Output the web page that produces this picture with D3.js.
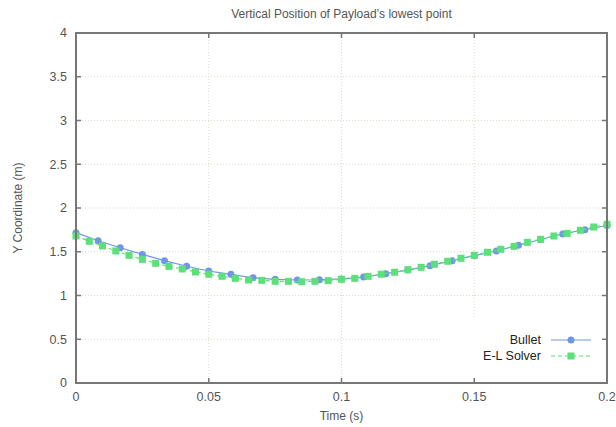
<!DOCTYPE html>
<html>
<head>
<meta charset="utf-8">
<script src="https://cdn.jsdelivr.net/npm/d3@7"></script>
<style>
  body { margin: 0; background: #fff; }
  text { font-family: "Liberation Sans", Arial, sans-serif; fill: #555; }
</style>
</head>
<body>
<svg id="chart"></svg>
<script>
// bullet samples every 1/120 s, solver samples every 1/200 s
let bulletTime = d3.range(25).map(k => k / 120);
let bulletY = [1.718, 1.626, 1.546, 1.470, 1.398, 1.334, 1.280, 1.242, 1.203, 1.185, 1.177, 1.180,
  1.190, 1.211, 1.249, 1.291, 1.341, 1.398, 1.455, 1.509, 1.574, 1.640, 1.703, 1.752, 1.800];

let solverTime = d3.range(41).map(k => k / 200);
let solverY = [1.680, 1.619, 1.566, 1.509, 1.459, 1.413, 1.368, 1.333, 1.303, 1.269, 1.243,
  1.219, 1.196, 1.177, 1.173, 1.162, 1.162, 1.158, 1.162, 1.170, 1.185,
  1.196, 1.219, 1.243, 1.266, 1.295, 1.322, 1.357, 1.391, 1.425, 1.459,
  1.494, 1.528, 1.562, 1.608, 1.642, 1.680, 1.710, 1.745, 1.783, 1.813];

let xTicks = [0, 0.05, 0.1, 0.15, 0.2];
let yTicks = [0, 0.5, 1, 1.5, 2, 2.5, 3, 3.5, 4];
let seriesNames = ["Bullet", "E-L Solver"];

let width = 616, height = 427;
let margin = {left: 76, right: 9, top: 33, bottom: 44};

let svg = d3.select("#chart").attr("width", width).attr("height", height);

let x = d3.scaleLinear().domain([0, 0.2]).range([margin.left, width - margin.right]);
let y = d3.scaleLinear().domain([0, 4]).range([height - margin.bottom, margin.top]);

let blue = "#7195e8", green = "#5ce07a";

//grid
let grid = svg.append("g").attr("stroke", "#d9dcc6").attr("stroke-width", 1).attr("stroke-dasharray", "1,2");
grid.selectAll("line.gx").data(xTicks.slice(1, -1)).enter().append("line")
  .attr("x1", d => x(d)).attr("x2", d => x(d)).attr("y1", y(0)).attr("y2", y(4));
grid.selectAll("line.gy").data(yTicks.slice(1, -1)).enter().append("line")
  .attr("y1", d => y(d)).attr("y2", d => y(d)).attr("x1", x(0)).attr("x2", x(0.2));

//series
let bulletData = bulletTime.map((t, i) => ({t: t, v: bulletY[i]}));
let solverData = solverTime.map((t, i) => ({t: t, v: solverY[i]}));
let line = d3.line().x(d => x(d.t)).y(d => y(d.v));

svg.append("path").datum(bulletData).attr("d", line)
  .attr("fill", "none").attr("stroke", blue).attr("stroke-width", 1.2);
svg.append("g").selectAll("circle").data(bulletData).enter().append("circle")
  .attr("cx", d => x(d.t)).attr("cy", d => y(d.v)).attr("r", 3.5).attr("fill", blue);

svg.append("path").datum(solverData).attr("d", line)
  .attr("fill", "none").attr("stroke", green).attr("stroke-width", 1.2).attr("stroke-dasharray", "4,3");
svg.append("g").selectAll("rect").data(solverData).enter().append("rect")
  .attr("x", d => x(d.t) - 3.5).attr("y", d => y(d.v) - 3.5).attr("width", 7).attr("height", 7).attr("fill", green);

//key box (opaque)
svg.append("rect").attr("x", 442).attr("y", 318).attr("width", x(0.2) - 443).attr("height", y(0) - 319).attr("fill", "#fff");

let key = svg.append("g");
seriesNames.forEach(function(name, i) {
  let ky = 340 + i * 16;
  key.append("text").attr("x", 541).attr("y", ky).attr("dy", "0.35em")
    .attr("text-anchor", "end").style("font-size", "12.5px").style("fill", "#222").text(name);
  key.append("line").attr("x1", 551).attr("x2", 591).attr("y1", ky).attr("y2", ky)
    .attr("stroke", i ? green : blue).attr("stroke-width", 1.2).attr("stroke-dasharray", i ? "4,3" : null);
  if (i) {
    key.append("rect").attr("x", 567.5).attr("y", ky - 3.5).attr("width", 7).attr("height", 7).attr("fill", green);
  } else {
    key.append("circle").attr("cx", 571).attr("cy", ky).attr("r", 3.5).attr("fill", blue);
  }
});

//ticks (mirrored, inward)
let ticks = svg.append("g").attr("stroke", "#777").attr("stroke-width", 1.5);
xTicks.forEach(function(d) {
  ticks.append("line").attr("x1", x(d)).attr("x2", x(d)).attr("y1", y(0)).attr("y2", y(0) - 5);
  ticks.append("line").attr("x1", x(d)).attr("x2", x(d)).attr("y1", y(4)).attr("y2", y(4) + 5);
});
yTicks.forEach(function(d) {
  ticks.append("line").attr("y1", y(d)).attr("y2", y(d)).attr("x1", x(0)).attr("x2", x(0) + 5);
  ticks.append("line").attr("y1", y(d)).attr("y2", y(d)).attr("x1", x(0.2)).attr("x2", x(0.2) - 5);
});

//border
svg.append("rect").attr("x", x(0)).attr("y", y(4)).attr("width", x(0.2) - x(0)).attr("height", y(0) - y(4))
  .attr("fill", "none").attr("stroke", "#777").attr("stroke-width", 2);

//tick labels
svg.append("g").selectAll("text").data(xTicks).enter().append("text")
  .attr("x", d => x(d)).attr("y", y(0) + 18).attr("text-anchor", "middle")
  .style("font-size", "12.5px").text(d => d);
svg.append("g").selectAll("text").data(yTicks).enter().append("text")
  .attr("x", x(0) - 9).attr("y", d => y(d)).attr("dy", "0.35em").attr("text-anchor", "end")
  .style("font-size", "12.5px").text(d => d);

//titles
svg.append("text").attr("x", (x(0) + x(0.2)) / 2).attr("y", 18).attr("text-anchor", "middle")
  .style("font-size", "12px").text("Vertical Position of Payload\u2019s lowest point");
svg.append("text").attr("x", (x(0) + x(0.2)) / 2).attr("y", 420).attr("text-anchor", "middle")
  .style("font-size", "12px").text("Time (s)");
svg.append("text").attr("transform", "translate(22," + (y(2)) + ") rotate(-90)").attr("text-anchor", "middle")
  .style("font-size", "12px").text("Y Coordinate (m)");
</script>
</body>
</html>
